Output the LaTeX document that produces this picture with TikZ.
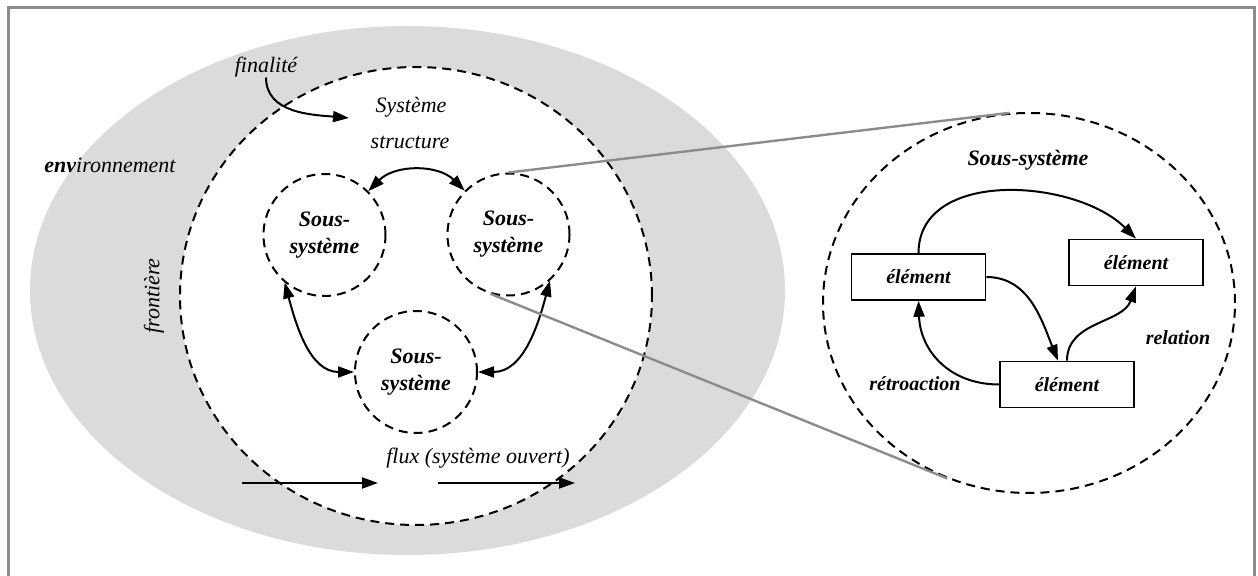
\documentclass[tikz,border=0pt]{standalone}
\usepackage{fontspec}
\setmainfont{Liberation Serif}
\usetikzlibrary{shapes.geometric, arrows.meta, calc}

\begin{document}
\begin{tikzpicture}[x=0.5pt, y=0.5pt,
  lbl/.style={font=\fontsize{11}{13}\selectfont\itshape, inner sep=0pt},
  blbl/.style={font=\fontsize{11}{13.5}\selectfont\bfseries\itshape, inner sep=0pt},
  slbl/.style={font=\fontsize{10}{12}\selectfont\bfseries\itshape, inner sep=0pt},
  dashline/.style={dash pattern=on 4.5pt off 3pt, line width=1pt},
  subsys/.style={circle, draw, dashline, minimum size=61pt, inner sep=0pt,
    align=center, font=\fontsize{11}{13.5}\selectfont\bfseries\itshape},
  elem/.style={draw, line width=0.8pt, minimum width=67pt, minimum height=23pt,
    inner sep=0pt, font=\fontsize{10}{12}\selectfont\bfseries\itshape},
  tip/.style={Triangle[length=8pt, width=5.5pt]},
  rel/.style={line width=1pt, -{Triangle[length=8pt, width=5.5pt]}},
  birel/.style={line width=1pt, {Triangle[length=8pt, width=5.5pt]}-{Triangle[length=8pt, width=5.5pt]}},
  link/.style={draw=black!45, line width=1.2pt},
]
\useasboundingbox (0,0) rectangle (1258,-576);

% outer frame
\draw[black!45, line width=1.5pt] (8,-580) -- (8,-8) -- (1254,-8) -- (1254,-580);

% environment and system boundary
\node[ellipse, fill=black!14, minimum width=377.5pt, minimum height=264.5pt, inner sep=0pt]
  (env) at (407.5,-290.5) {};
\node[ellipse, fill=white, draw, dashline, minimum width=236pt, minimum height=229pt, inner sep=0pt]
  (sys) at (416,-296) {};

% labels of the system
\node[lbl] (fin) at (266,-67) {finalité};
\node[lbl] (systitle) at (411,-107) {Système};
\node[lbl] (struct) at (410,-142) {structure};
\node[lbl] (envlbl) at (110,-165) {\textbf{env}ironnement};
\node[lbl, rotate=90] (front) at (154,-296) {frontière};
\node[lbl] (flux) at (478,-458) {flux (système ouvert)};

% finality arrow
\coordinate (finend) at (349,-118);
\draw[rel] (fin.south) to[out=-90, in=175] (finend);

% flow arrows
\coordinate (fa1) at (242,-483);
\coordinate (fb1) at (378,-483);
\coordinate (fa2) at (438,-483);
\coordinate (fb2) at (575,-483);
\draw[rel] (fa1) -- (fb1);
\draw[rel] (fa2) -- (fb2);

% sub-systems
\node[subsys] (ssA) at (324.5,-235) {Sous-\\système};
\node[subsys] (ssB) at (508.5,-234.5) {Sous-\\système};
\node[subsys] (ssC) at (416,-372) {Sous-\\système};

\draw[birel] (ssA.45) to[bend left=45] (ssB.135);
\draw[birel] (ssA.230) to[out=-75, in=180] (ssC.180);
\draw[birel] (ssB.312) to[out=-105, in=0] (ssC.0);

% detail of a sub-system
\node[ellipse, draw, dashline, minimum width=206pt, minimum height=190pt, inner sep=0pt]
  (detail) at (1029,-303) {};
\draw[link] (ssB.north) -- (detail.96.6);
\draw[link] (ssB.253) -- (detail.245.7);

\node[blbl] (dtitle) at (1028,-160) {Sous-système};

\node[elem] (e1) at (918.5,-277) {élément};
\node[elem] (e2) at (1136,-262.5) {élément};
\node[elem] (e3) at (1067,-384.5) {élément};

\draw[rel] (e1.north) to[out=90, in=135] (e2.north);
\draw[rel] (e1.east) to[out=0, in=112] ($(e3.north)+(-9,0)$);
\draw[rel] (e3.north) to[out=90, in=-110] (e2.south);
\draw[rel] (e3.west) to[out=180, in=-88, looseness=1.1] (e1.south);

\node[slbl] (relation) at (1178,-338) {relation};
\node[slbl] (retro) at (915,-384) {rétroaction};
\end{tikzpicture}
\end{document}
